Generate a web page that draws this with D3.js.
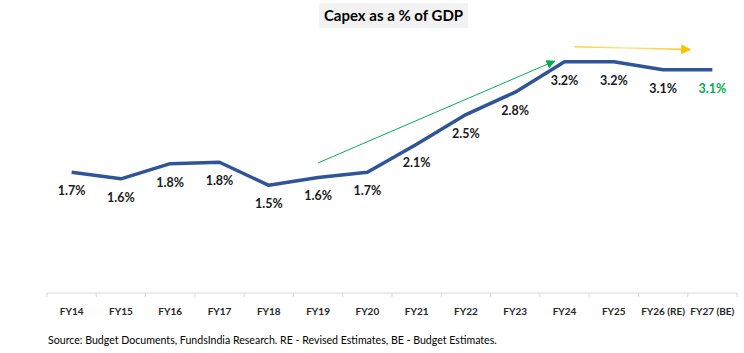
<!DOCTYPE html>
<html>
<head>
<meta charset="utf-8">
<script src="https://cdn.jsdelivr.net/npm/d3@7"></script>
<style>
  body { margin: 0; background: #fff; }
  svg { font-family: Lato, 'Open Sans', sans-serif; }
</style>
</head>
<body>
<div id="chart"></div>
<script>
const categories = ['FY14', 'FY15', 'FY16', 'FY17', 'FY18', 'FY19', 'FY20', 'FY21', 'FY22', 'FY23', 'FY24', 'FY25', 'FY26 (RE)', 'FY27 (BE)']
const values = [1.67, 1.58, 1.79, 1.81, 1.49, 1.6, 1.67, 2.06, 2.47, 2.78, 3.2, 3.2, 3.09, 3.09]
const labels = ['1.7%', '1.6%', '1.8%', '1.8%', '1.5%', '1.6%', '1.7%', '2.1%', '2.5%', '2.8%', '3.2%', '3.2%', '3.1%', '3.1%']
// trend arrows in data units: [category index, value]
const upTrend = [[5, 1.8], [9.8, 3.21]]
const flatTrend = [[10.2, 3.41], [12.55, 3.37]]

const width = 744
const height = 353
const margin = { top: 4, right: 7, bottom: 60, left: 47 }

const svg = d3.select('#chart').append('svg')
  .attr('width', width)
  .attr('height', height)

const x = d3.scaleBand()
  .domain(categories)
  .range([margin.left, width - margin.right])

const xi = d3.scaleLinear()
  .domain([0, categories.length - 1])
  .range([x(categories[0]) + x.bandwidth() / 2, x(categories[categories.length - 1]) + x.bandwidth() / 2])

const y = d3.scaleLinear()
  .domain([0, 4])
  .range([height - margin.bottom, margin.top])

const defs = svg.append('defs')
defs.append('marker')
  .attr('id', 'headGreen')
  .attr('viewBox', '0 0 10 10')
  .attr('refX', 9).attr('refY', 5)
  .attr('markerWidth', 9).attr('markerHeight', 9)
  .attr('markerUnits', 'userSpaceOnUse')
  .attr('orient', 'auto')
  .append('path').attr('d', 'M0,0L10,5L0,10z').attr('fill', '#00B050')
defs.append('marker')
  .attr('id', 'headOrange')
  .attr('viewBox', '0 0 10 10')
  .attr('refX', 9).attr('refY', 5)
  .attr('markerWidth', 10).attr('markerHeight', 10)
  .attr('markerUnits', 'userSpaceOnUse')
  .attr('orient', 'auto')
  .append('path').attr('d', 'M0,0L10,5L0,10z').attr('fill', '#FFC000')
const grad = defs.append('linearGradient')
  .attr('id', 'orangeGrad')
  .attr('gradientUnits', 'userSpaceOnUse')
  .attr('x1', xi(flatTrend[0][0])).attr('x2', xi(flatTrend[1][0]))
  .attr('y1', 0).attr('y2', 0)
grad.append('stop').attr('offset', '0%').attr('stop-color', '#FFC000').attr('stop-opacity', 0.75)
grad.append('stop').attr('offset', '45%').attr('stop-color', '#FFE699')
grad.append('stop').attr('offset', '100%').attr('stop-color', '#FFC000')

// title
const title = svg.append('g')
title.append('rect')
  .attr('x', 319).attr('y', 3)
  .attr('width', 149).attr('height', 25)
  .attr('fill', '#f2f2f2')
title.append('text')
  .attr('x', 393.5).attr('y', 21)
  .attr('text-anchor', 'middle')
  .attr('font-size', 15)
  .attr('font-weight', 'bold')
  .attr('fill', '#000')
  .text('Capex as a % of GDP')

// x axis
const xAxis = svg.append('g')
  .attr('transform', `translate(0,${y(0)})`)
xAxis.append('line')
  .attr('x1', margin.left).attr('x2', width - margin.right)
  .attr('stroke', '#d9d9d9')
xAxis.selectAll('.tick')
  .data(categories.concat(['end']))
  .join('line')
  .attr('x1', (d, i) => margin.left + i * x.bandwidth())
  .attr('x2', (d, i) => margin.left + i * x.bandwidth())
  .attr('y1', 0).attr('y2', 4)
  .attr('stroke', '#d9d9d9')
xAxis.selectAll('text')
  .data(categories)
  .join('text')
  .attr('x', d => x(d) + x.bandwidth() / 2)
  .attr('y', 22)
  .attr('text-anchor', 'middle')
  .attr('font-size', 10)
  .attr('font-weight', 'bold')
  .attr('fill', '#262626')
  .text(d => d)

// trend arrows
const arrowLine = d3.line().x(d => xi(d[0])).y(d => y(d[1]))
svg.append('path')
  .attr('d', arrowLine(upTrend))
  .attr('stroke', '#00B050')
  .attr('stroke-width', 1)
  .attr('fill', 'none')
  .attr('marker-end', 'url(#headGreen)')
svg.append('path')
  .attr('d', arrowLine(flatTrend))
  .attr('stroke', 'url(#orangeGrad)')
  .attr('stroke-width', 1.5)
  .attr('fill', 'none')
  .attr('marker-end', 'url(#headOrange)')

// line
const line = d3.line()
  .x((d, i) => x(categories[i]) + x.bandwidth() / 2)
  .y(d => y(d))

svg.append('path')
  .datum(values)
  .attr('fill', 'none')
  .attr('stroke', '#2F5597')
  .attr('stroke-width', 3.5)
  .attr('stroke-linejoin', 'round')
  .attr('d', line)

// data labels
svg.append('g')
  .selectAll('text')
  .data(values)
  .join('text')
  .attr('x', (d, i) => x(categories[i]) + x.bandwidth() / 2)
  .attr('y', d => y(d) + 23)
  .attr('text-anchor', 'middle')
  .attr('font-size', 12.5)
  .attr('font-weight', 'bold')
  .attr('fill', (d, i) => i === values.length - 1 ? '#00B050' : '#1a1a1a')
  .text((d, i) => labels[i])

// source
svg.append('text')
  .attr('x', 48).attr('y', 344)
  .attr('font-size', 10.6)
  .attr('fill', '#000')
  .text('Source: Budget Documents, FundsIndia Research. RE - Revised Estimates, BE - Budget Estimates.')
</script>
</body>
</html>
